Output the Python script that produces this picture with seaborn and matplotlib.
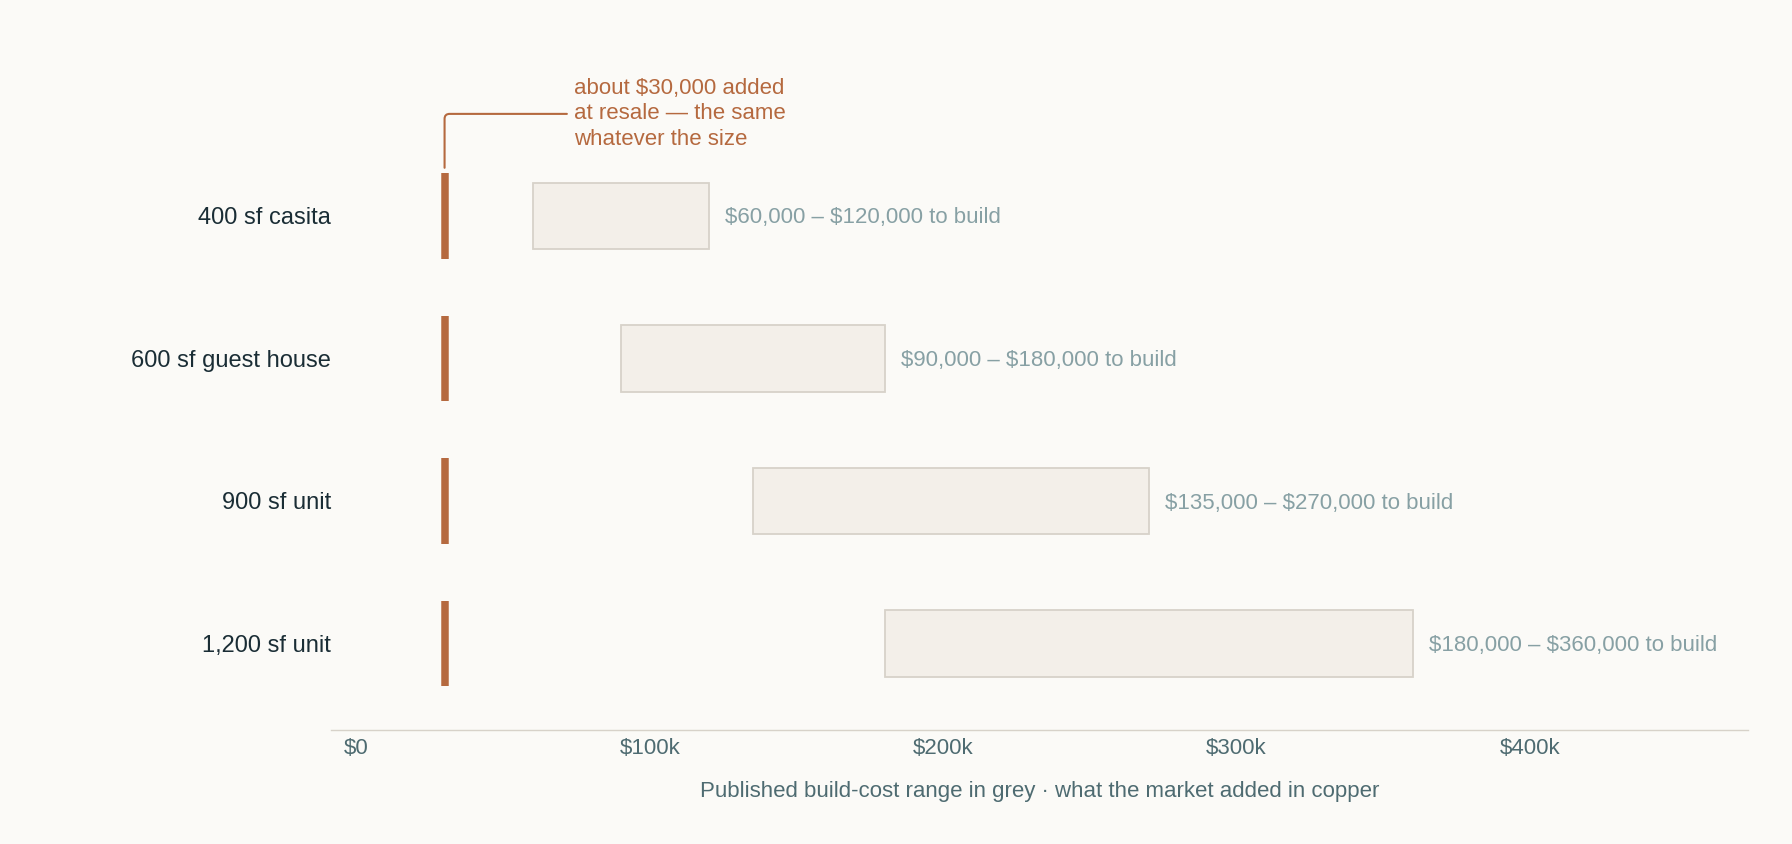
import matplotlib
matplotlib.use("Agg")
import matplotlib.pyplot as plt
import seaborn as sns
import pandas as pd
import numpy as np

# ---- data ----
categories = ["400 sf casita", "600 sf guest house", "900 sf unit", "1,200 sf unit"]
cost_low = [60000, 90000, 135000, 180000]
cost_high = [120000, 180000, 270000, 360000]
resale_added = [30000, 30000, 30000, 30000]
range_labels = ["$60,000 – $120,000 to build", "$90,000 – $180,000 to build",
                "$135,000 – $270,000 to build", "$180,000 – $360,000 to build"]
tick_values = [0, 100000, 200000, 300000, 400000]
tick_labels = ["$0", "$100k", "$200k", "$300k", "$400k"]
annotation = "about $30,000 added\nat resale — the same\nwhatever the size"
footer = "Published build-cost range in grey · what the market added in copper"

# ---- style ----
BG = "#fbfaf7"
COPPER = "#b5693f"
BOX_FILL = "#f3efe9"
BOX_EDGE = "#d7d2c9"
RANGE_TXT = "#87a0a4"
TICK_TXT = "#4e6b71"
CAT_TXT = "#1a2d35"

sns.set_theme(style="white")
plt.rcParams["font.family"] = ["Liberation Sans", "DejaVu Sans"]
plt.rcParams["text.parse_math"] = False

fig = plt.figure(figsize=(17.92, 8.44), dpi=100, facecolor=BG)
ax = fig.add_axes([0.1849, 0.1347, 0.7903, 0.8108])
ax.set_facecolor(BG)

df = pd.DataFrame({
    "category": categories,
    "span": np.array(cost_high) - np.array(cost_low),
})

sns.barplot(data=df, x="span", y="category", order=categories, orient="y",
            errorbar=None, width=0.465, color=BOX_FILL, saturation=1,
            left=cost_low, facecolor=BOX_FILL, edgecolor=BOX_EDGE,
            linewidth=1.3, ax=ax)

ypos = np.arange(len(categories))
ax.vlines(resale_added, ypos - 0.3, ypos + 0.3, colors=COPPER,
          linewidth=5.4, capstyle="butt", zorder=3)

for y, hi, lab in zip(ypos, cost_high, range_labels):
    ax.annotate(lab, xy=(hi, y), xytext=(12, -1.5), textcoords="offset points",
                ha="left", va="center", fontsize=16, color=RANGE_TXT,
                parse_math=False)

# leader + annotation
ax.annotate("", xy=(resale_added[0], -0.336), xytext=(71700, -0.714),
            arrowprops=dict(arrowstyle="-", color=COPPER, lw=1.5,
                            connectionstyle="angle,angleA=0,angleB=90,rad=5",
                            shrinkA=0, shrinkB=0))
ax.text(74000, -0.714, annotation, ha="left", va="center", fontsize=16,
        color=COPPER, linespacing=1.28, parse_math=False)

ax.set_xlim(-8600, 474200)
ax.set_ylim(3.608, -1.19)
ax.set_xticks(tick_values)
ax.set_xticklabels(tick_labels)
ax.set_xlabel("")
ax.set_ylabel("")
ax.tick_params(axis="x", length=0, pad=5.5, labelsize=16, labelcolor=TICK_TXT)
ax.tick_params(axis="y", length=0, pad=0, labelsize=17, labelcolor=CAT_TXT)

for s in ["top", "right", "left"]:
    ax.spines[s].set_visible(False)
ax.spines["bottom"].set_color(BOX_EDGE)
ax.spines["bottom"].set_linewidth(1.0)

fig.text(0.58, 1 - 791 / 844, footer, ha="center", va="center",
         fontsize=16, color=TICK_TXT)

fig.savefig("out.png", dpi=100, facecolor=BG)
